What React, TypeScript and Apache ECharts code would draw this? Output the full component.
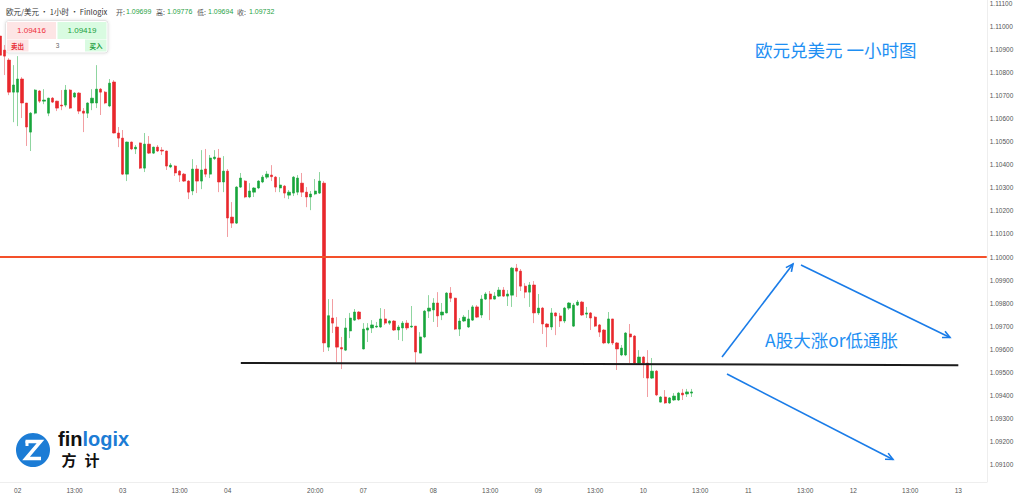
import React, { useEffect, useRef } from "react";
import * as echarts from "echarts";

// ---- data (hourly EUR/USD candles) ----
const opens = [
  1.10957, 1.10896, 1.10853, 1.10714, 1.10714, 1.10771, 1.10667, 1.10541, 1.10623, 1.10719,
  1.10675, 1.10623, 1.10688, 1.10675, 1.10658, 1.10658, 1.10723, 1.10693, 1.10710, 1.10632,
  1.10623, 1.10667, 1.10667, 1.10727, 1.10714, 1.10654, 1.10758, 1.10537, 1.10515, 1.10359,
  1.10498, 1.10468, 1.10494, 1.10385, 1.10489, 1.10450, 1.10476, 1.10463, 1.10459, 1.10390,
  1.10394, 1.10372, 1.10359, 1.10329, 1.10286, 1.10381, 1.10329, 1.10381, 1.10359, 1.10426,
  1.10429, 1.10325, 1.10372, 1.10173, 1.10147, 1.10303, 1.10329, 1.10260, 1.10281, 1.10299,
  1.10325, 1.10346, 1.10355, 1.10346, 1.10299, 1.10307, 1.10268, 1.10277, 1.10281, 1.10320,
  1.10281, 1.10260, 1.10273, 1.10277, 1.10320, 1.09610, 1.09736, 1.09697, 1.09608, 1.09597,
  1.09680, 1.09727, 1.09762, 1.09602, 1.09684, 1.09693, 1.09697, 1.09697, 1.09732, 1.09714,
  1.09723, 1.09684, 1.09693, 1.09714, 1.09697, 1.09701, 1.09584, 1.09654, 1.09766, 1.09771,
  1.09801, 1.09749, 1.09758, 1.09844, 1.09822, 1.09688, 1.09723, 1.09697, 1.09727, 1.09784,
  1.09749, 1.09818, 1.09840, 1.09818, 1.09831, 1.09857, 1.09831, 1.09835, 1.09952, 1.09939,
  1.09874, 1.09848, 1.09879, 1.09758, 1.09779, 1.09710, 1.09697, 1.09758, 1.09745, 1.09723,
  1.09779, 1.09701, 1.09792, 1.09805, 1.09753, 1.09758, 1.09740, 1.09706, 1.09684, 1.09628,
  1.09732, 1.09628, 1.09576, 1.09576, 1.09667, 1.09658, 1.09541, 1.09567, 1.09541, 1.09476,
  1.09506, 1.09372, 1.09394, 1.09368, 1.09381, 1.09381, 1.09411, 1.09407, 1.09411,
];
const closes = [
  1.10874, 1.10870, 1.10714, 1.10745, 1.10771, 1.10667, 1.10563, 1.10623, 1.10723, 1.10675,
  1.10680, 1.10688, 1.10671, 1.10645, 1.10654, 1.10723, 1.10645, 1.10710, 1.10632, 1.10623,
  1.10667, 1.10688, 1.10727, 1.10714, 1.10667, 1.10753, 1.10537, 1.10515, 1.10359, 1.10498,
  1.10468, 1.10476, 1.10385, 1.10489, 1.10450, 1.10476, 1.10459, 1.10459, 1.10394, 1.10398,
  1.10364, 1.10355, 1.10329, 1.10281, 1.10381, 1.10329, 1.10377, 1.10359, 1.10429, 1.10433,
  1.10325, 1.10372, 1.10169, 1.10147, 1.10303, 1.10342, 1.10260, 1.10286, 1.10299, 1.10329,
  1.10346, 1.10359, 1.10348, 1.10303, 1.10312, 1.10277, 1.10281, 1.10346, 1.10342, 1.10281,
  1.10260, 1.10273, 1.10286, 1.10329, 1.09628, 1.09746, 1.09714, 1.09610, 1.09602, 1.09693,
  1.09736, 1.09762, 1.09732, 1.09688, 1.09693, 1.09706, 1.09701, 1.09732, 1.09714, 1.09723,
  1.09684, 1.09697, 1.09714, 1.09693, 1.09701, 1.09589, 1.09654, 1.09766, 1.09779, 1.09801,
  1.09745, 1.09762, 1.09844, 1.09822, 1.09688, 1.09723, 1.09740, 1.09732, 1.09784, 1.09740,
  1.09818, 1.09840, 1.09818, 1.09831, 1.09857, 1.09831, 1.09840, 1.09952, 1.09939, 1.09874,
  1.09848, 1.09879, 1.09758, 1.09779, 1.09710, 1.09697, 1.09758, 1.09745, 1.09723, 1.09779,
  1.09801, 1.09792, 1.09805, 1.09749, 1.09758, 1.09736, 1.09701, 1.09675, 1.09628, 1.09732,
  1.09628, 1.09602, 1.09606, 1.09671, 1.09654, 1.09541, 1.09567, 1.09541, 1.09476, 1.09506,
  1.09403, 1.09394, 1.09368, 1.09390, 1.09398, 1.09411, 1.09403, 1.09416, 1.09416,
];
const lows = [
  1.10861, 1.10788, 1.10701, 1.10584, 1.10567, 1.10602, 1.10481, 1.10459, 1.10618, 1.10667,
  1.10662, 1.10610, 1.10667, 1.10632, 1.10636, 1.10649, 1.10641, 1.10688, 1.10619, 1.10541,
  1.10602, 1.10636, 1.10645, 1.10615, 1.10662, 1.10649, 1.10535, 1.10476, 1.10355, 1.10329,
  1.10463, 1.10446, 1.10381, 1.10368, 1.10446, 1.10446, 1.10455, 1.10442, 1.10377, 1.10385,
  1.10351, 1.10325, 1.10325, 1.10251, 1.10268, 1.10277, 1.10294, 1.10346, 1.10342, 1.10420,
  1.10281, 1.10281, 1.10087, 1.10126, 1.10143, 1.10299, 1.10255, 1.10255, 1.10260, 1.10294,
  1.10320, 1.10338, 1.10329, 1.10281, 1.10281, 1.10255, 1.10251, 1.10264, 1.10268, 1.10260,
  1.10216, 1.10203, 1.10268, 1.10273, 1.09589, 1.09593, 1.09671, 1.09545, 1.09515, 1.09593,
  1.09649, 1.09723, 1.09727, 1.09600, 1.09632, 1.09671, 1.09693, 1.09693, 1.09706, 1.09706,
  1.09680, 1.09641, 1.09636, 1.09684, 1.09693, 1.09541, 1.09584, 1.09649, 1.09736, 1.09719,
  1.09697, 1.09727, 1.09756, 1.09805, 1.09684, 1.09658, 1.09719, 1.09693, 1.09723, 1.09736,
  1.09736, 1.09814, 1.09727, 1.09816, 1.09827, 1.09827, 1.09788, 1.09784, 1.09827, 1.09853,
  1.09822, 1.09784, 1.09714, 1.09749, 1.09667, 1.09610, 1.09684, 1.09662, 1.09697, 1.09714,
  1.09771, 1.09697, 1.09788, 1.09745, 1.09736, 1.09684, 1.09697, 1.09654, 1.09623, 1.09623,
  1.09619, 1.09511, 1.09571, 1.09571, 1.09541, 1.09537, 1.09537, 1.09476, 1.09394, 1.09472,
  1.09398, 1.09370, 1.09364, 1.09364, 1.09377, 1.09377, 1.09381, 1.09394, 1.09394,
];
const highs = [
  1.10983, 1.10918, 1.10861, 1.10831, 1.10870, 1.10779, 1.10667, 1.10628, 1.10727, 1.10723,
  1.10727, 1.10690, 1.10693, 1.10677, 1.10723, 1.10745, 1.10727, 1.10714, 1.10714, 1.10645,
  1.10670, 1.10727, 1.10831, 1.10732, 1.10719, 1.10771, 1.10766, 1.10563, 1.10550, 1.10500,
  1.10500, 1.10485, 1.10496, 1.10537, 1.10524, 1.10478, 1.10485, 1.10476, 1.10461, 1.10407,
  1.10398, 1.10377, 1.10364, 1.10333, 1.10424, 1.10398, 1.10463, 1.10468, 1.10442, 1.10463,
  1.10468, 1.10437, 1.10381, 1.10238, 1.10307, 1.10364, 1.10333, 1.10320, 1.10303, 1.10333,
  1.10355, 1.10372, 1.10398, 1.10351, 1.10346, 1.10312, 1.10290, 1.10351, 1.10355, 1.10364,
  1.10303, 1.10286, 1.10338, 1.10368, 1.10329, 1.09818, 1.09818, 1.09740, 1.09654, 1.09736,
  1.09758, 1.09775, 1.09766, 1.09714, 1.09714, 1.09727, 1.09719, 1.09779, 1.09775, 1.09727,
  1.09727, 1.09706, 1.09723, 1.09727, 1.09788, 1.09701, 1.09675, 1.09771, 1.09835, 1.09822,
  1.09848, 1.09801, 1.09848, 1.09870, 1.09824, 1.09736, 1.09749, 1.09771, 1.09792, 1.09792,
  1.09835, 1.09848, 1.09853, 1.09848, 1.09870, 1.09870, 1.09857, 1.09957, 1.09970, 1.09948,
  1.09887, 1.09892, 1.09896, 1.09840, 1.09784, 1.09714, 1.09779, 1.09760, 1.09758, 1.09784,
  1.09805, 1.09801, 1.09814, 1.09810, 1.09784, 1.09762, 1.09745, 1.09710, 1.09688, 1.09762,
  1.09732, 1.09632, 1.09619, 1.09675, 1.09710, 1.09662, 1.09597, 1.09571, 1.09597, 1.09563,
  1.09511, 1.09398, 1.09424, 1.09394, 1.09411, 1.09416, 1.09429, 1.09429, 1.09429,
];

const CATEGORY_COUNT = 226;
const xTickIndex = [4, 17, 28, 41, 52, 72, 83, 99, 112, 123, 136, 147, 160, 171, 184, 195, 208, 219];
const xTickText = ["02", "13:00", "03", "13:00", "04", "20:00", "07", "08", "13:00", "09", "13:00", "10", "13:00", "11", "13:00", "12", "13:00", "13"];
const yTicks = [
  1.091, 1.092, 1.093, 1.094, 1.095, 1.096, 1.097, 1.098, 1.099, 1.1,
  1.101, 1.102, 1.103, 1.104, 1.105, 1.106, 1.107, 1.108, 1.109, 1.11, 1.111,
];
const Y_MIN = 1.09026;
const Y_MAX = 1.11113;

const resistanceLevel = 1.1;
const supportLine = { fromIndex: 55, fromPrice: 1.09541, toIndex: 219, toPrice: 1.09532 };

const headerPair = "欧元/美元 · 1小时 · Finlogix";
const headerLabels = ["开:", "高:", "低:", "收:"];
const headerValues = ["1.09699", "1.09776", "1.09694", "1.09732"];
const sellPrice = "1.09416";
const buyPrice = "1.09419";
const spread = "3";

const GREEN = "#17a53b";
const RED = "#e8272c";
const GREEN_WICK = "#8fd5a0";
const RED_WICK = "#f29ea2";
const BLUE = "#1e8ff3";
const LATIN = "'Liberation Sans', Arial, 'Noto Sans CJK SC', sans-serif";
const CJK = "'Noto Sans CJK SC', 'Liberation Sans', sans-serif";

function arrow(x1: number, y1: number, x2: number, y2: number) {
  const ang = Math.atan2(y2 - y1, x2 - x1);
  const L = 8;
  const a = Math.PI / 7;
  const p1 = [x2 - L * Math.cos(ang - a), y2 - L * Math.sin(ang - a)];
  const p2 = [x2 - L * Math.cos(ang + a), y2 - L * Math.sin(ang + a)];
  const stroke = "#1a7ce8";
  return [
    { type: "line", silent: true, shape: { x1, y1, x2, y2 }, style: { stroke, lineWidth: 1.6 } },
    { type: "polyline", silent: true, shape: { points: [p1, [x2, y2], p2] }, style: { stroke, lineWidth: 1.6, fill: null } },
  ];
}

function txt(x: number, y: number, text: string, font: string, fill: string, align = "left") {
  return {
    type: "text",
    silent: true,
    x,
    y,
    style: { text, font, fill, align, verticalAlign: "middle" },
  };
}

export default function App() {
  const ref = useRef<HTMLDivElement>(null);

  useEffect(() => {
    document.body.style.margin = "0";
    const chart = echarts.init(ref.current!, null, { renderer: "svg" });

    const categories = Array.from({ length: CATEGORY_COUNT }, (_, i) => String(i));
    const labelMap: Record<number, string> = {};
    xTickIndex.forEach((idx, k) => (labelMap[idx] = xTickText[k]));

    const full = opens.map((o, i) => [o, closes[i], lows[i], highs[i]]);
    const bodies = opens.map((o, i) => [o, closes[i], Math.min(o, closes[i]), Math.max(o, closes[i])]);

    const headerX = [116, 156, 197, 237];
    const valueX = [126, 167, 208, 249];

    const graphics: any[] = [
      txt(6, 11.5, headerPair, `7.5px ${CJK}`, "#333333"),
      ...headerLabels.map((t, i) => txt(headerX[i], 11.5, t, `7px ${CJK}`, "#555555")),
      ...headerValues.map((t, i) => txt(valueX[i], 11.5, t, `7px ${LATIN}`, "#1f9f45")),
      // buy / sell widget
      {
        type: "rect",
        silent: true,
        shape: { x: 5.5, y: 20.5, width: 102.5, height: 32.5, r: 3 },
        style: { fill: "#ffffff", stroke: "#e3e3e3", lineWidth: 1, shadowBlur: 3, shadowColor: "rgba(0,0,0,0.12)" },
      },
      { type: "rect", silent: true, shape: { x: 7, y: 22, width: 49, height: 17 }, style: { fill: "#fde5e5" } },
      { type: "rect", silent: true, shape: { x: 57.5, y: 22, width: 49, height: 17 }, style: { fill: "#d9fbe1" } },
      { type: "rect", silent: true, shape: { x: 7, y: 39.5, width: 21.5, height: 12 }, style: { fill: "#fde5e5" } },
      { type: "rect", silent: true, shape: { x: 85, y: 39.5, width: 21.5, height: 12 }, style: { fill: "#d9fbe1" } },
      txt(31.5, 30.5, sellPrice, `8px ${LATIN}`, "#ef2f3a", "center"),
      txt(82, 30.5, buyPrice, `8px ${LATIN}`, "#1a9e3e", "center"),
      txt(17.5, 45.5, "卖出", `bold 6.5px ${CJK}`, "#e8303a", "center"),
      txt(57.5, 45.5, spread, `6.5px ${LATIN}`, "#666666", "center"),
      txt(96, 45.5, "买入", `bold 6.5px ${CJK}`, "#1a9e3e", "center"),
      // logo
      { type: "circle", silent: true, shape: { cx: 33, cy: 450, r: 17 }, style: { fill: "#1c7cd5" } },
      {
        type: "polyline",
        silent: true,
        shape: { points: [[25.5, 441.5], [40.5, 441.5], [26, 458.5], [41, 458.5]] },
        style: { stroke: "#ffffff", lineWidth: 3.5, fill: null, lineJoin: "miter" },
      },
      { type: "line", silent: true, shape: { x1: 27, y1: 441, x2: 27, y2: 446 }, style: { stroke: "#ffffff", lineWidth: 3 } },
      txt(58, 439, "fin", `bold 20px ${LATIN}`, "#111111"),
      txt(82.5, 439, "logix", `bold 20px ${LATIN}`, "#1c7cd5"),
      txt(61.5, 459.5, "方", `bold 15px ${CJK}`, "#111111"),
      txt(84.5, 459.5, "计", `bold 15px ${CJK}`, "#111111"),
      // annotations
      txt(755, 49.5, "欧元兑美元 一小时图", `17.5px ${CJK}`, BLUE),
      txt(765, 339, "A股大涨or低通胀", `17.5px ${CJK}`, BLUE),
      ...arrow(722, 357, 793, 264),
      ...arrow(801, 265, 950, 337.5),
      ...arrow(727, 374, 893, 459.5),
    ];

    chart.setOption({
      animation: false,
      backgroundColor: "#ffffff",
      grid: {
        left: -2,
        right: 37.25,
        top: 0,
        bottom: 19,
        containLabel: false,
        outerBoundsMode: "none",
      },
      xAxis: {
        type: "category",
        data: categories,
        boundaryGap: true,
        axisLine: { show: true, lineStyle: { color: "#eeeeee", width: 1 } },
        axisTick: { show: false },
        splitLine: { show: false },
        axisLabel: {
          interval: (index: number) => labelMap[index] !== undefined,
          formatter: (_v: string, index: number) => labelMap[index] ?? "",
          color: "#555555",
          fontSize: 6.5,
          fontFamily: LATIN,
          margin: 5,
        },
      },
      yAxis: {
        type: "value",
        position: "right",
        min: Y_MIN,
        max: Y_MAX,
        scale: true,
        axisLine: { show: true, lineStyle: { color: "#eeeeee", width: 1 } },
        axisTick: { show: false },
        splitLine: { show: false },
        axisLabel: {
          customValues: yTicks,
          formatter: (v: number) => v.toFixed(5),
          color: "#555555",
          fontSize: 6.5,
          fontFamily: LATIN,
          margin: 3,
        },
      },
      series: [
        {
          type: "candlestick",
          data: full,
          barWidth: 1,
          silent: true,
          itemStyle: {
            color: GREEN_WICK,
            color0: RED_WICK,
            borderColor: GREEN_WICK,
            borderColor0: RED_WICK,
            borderWidth: 1,
          },
        },
        {
          type: "candlestick",
          data: bodies,
          barWidth: 2.8,
          silent: true,
          itemStyle: {
            color: GREEN,
            color0: RED,
            borderColor: GREEN,
            borderColor0: RED,
            borderWidth: 0.6,
          },
          markLine: {
            silent: true,
            symbol: ["none", "none"],
            label: { show: false },
            animation: false,
            data: [
              { yAxis: resistanceLevel, lineStyle: { color: "#f4502a", width: 2, type: "solid" } },
              [
                {
                  coord: [supportLine.fromIndex, supportLine.fromPrice],
                  lineStyle: { color: "#1b1b1b", width: 2, type: "solid" },
                },
                { coord: [supportLine.toIndex, supportLine.toPrice] },
              ],
            ],
          },
        },
      ],
      graphic: { elements: graphics },
    });

    return () => chart.dispose();
  }, []);

  return (
    <div
      ref={ref}
      style={{ position: "fixed", left: 0, top: 0, width: 1024, height: 501, background: "#ffffff" }}
    />
  );
}
